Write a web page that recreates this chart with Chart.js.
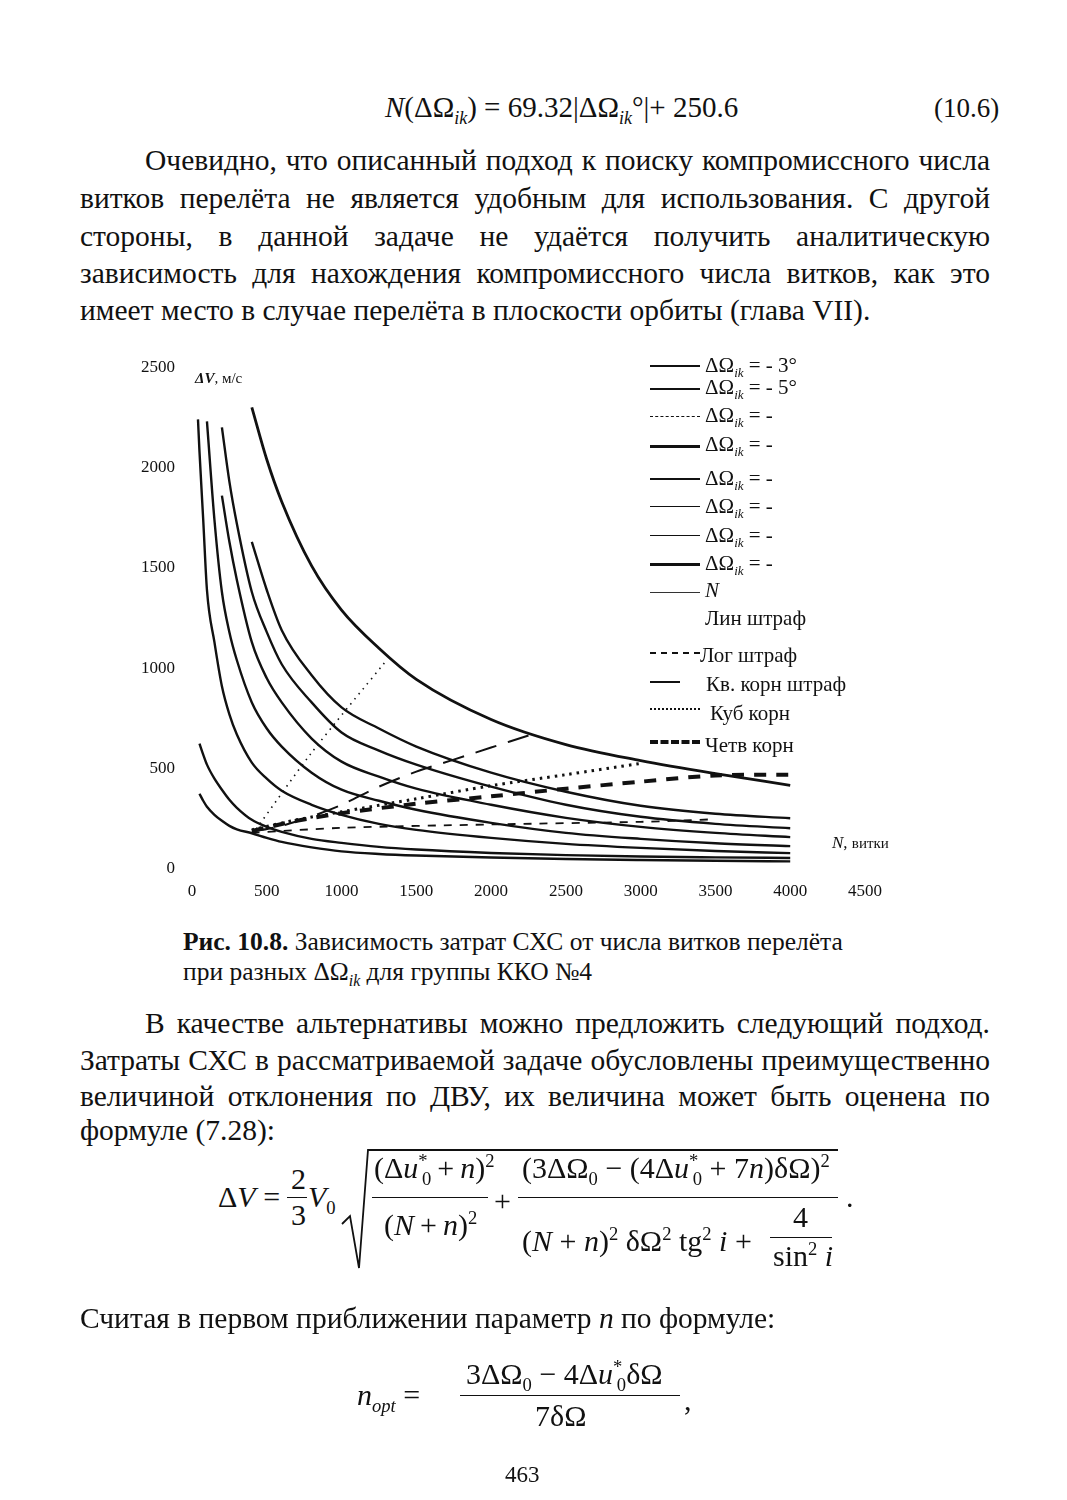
<!DOCTYPE html>
<html lang="ru">
<head>
<meta charset="utf-8">
<script src="https://cdn.jsdelivr.net/npm/chart.js@4.4.1/dist/chart.umd.min.js"></script>
<style>
  body { margin: 0; width: 1067px; height: 1500px; position: relative; background: #fff;
         font-family: "Liberation Serif", "DejaVu Serif", serif; color: #111; overflow: hidden; }
  .ab { position: absolute; white-space: nowrap; }
  .txt { position: absolute; left: 80px; font-size: 29.5px; line-height: 34px; white-space: nowrap; }
  .ind { left: 145px; }
  .cap { position: absolute; left: 183px; font-size: 25.5px; line-height: 30px; white-space: nowrap; }
  .m { font-size: 30px; line-height: 30px; }
  .bar { position: absolute; height: 0; border-top: 1.7px solid #111; }
  sub, sup { font-size: 62%; line-height: 0; }
  #box { position: absolute; left: 100px; top: 340px; width: 850px; height: 570px; }
  .lg { position: absolute; left: 705px; font-size: 21px; line-height: 22px; white-space: nowrap; }
  .sw { position: absolute; left: 650px; width: 50px; height: 0; }
</style>
</head>
<body>

<div class="ab m" style="left:385px; top:92px; font-size:29px;"><i>N</i>(ΔΩ<sub><i>ik</i></sub>) = 69.32|ΔΩ<sub><i>ik</i></sub>°|+ 250.6</div>
<div class="ab m" style="left:934px; top:93px; font-size:27px;">(10.6)</div>

<div class="txt just ind" data-w="845" style="top:143px;">Очевидно, что описанный подход к поиску компромиссного числа</div>
<div class="txt just" data-w="910" style="top:181px;">витков перелёта не является удобным для использования. С другой</div>
<div class="txt just" data-w="910" style="top:219px;">стороны, в данной задаче не удаётся получить аналитическую</div>
<div class="txt just" data-w="910" style="top:256px;">зависимость для нахождения компромиссного числа витков, как это</div>
<div class="txt" style="top:293px;">имеет место в случае перелёта в плоскости орбиты (глава VII).</div>

<div id="box"><canvas id="grafico" width="850" height="570"></canvas></div>

<div class="ab" style="left:195px; top:370px; font-size:15px;"><b><i>ΔV</i></b>, м/с</div>
<div class="ab" style="left:832px; top:833px; font-size:17px;"><i>N</i>, <span style="font-size:15px">витки</span></div>

<div class="sw" style="top:365px; border-top:2px solid #111;"></div>
<div class="lg" style="top:354px;">ΔΩ<sub><i>ik</i></sub> = - 3°</div>
<div class="sw" style="top:388px; border-top:2.5px solid #111;"></div>
<div class="lg" style="top:376px;">ΔΩ<sub><i>ik</i></sub> = - 5°</div>
<div class="sw" style="top:416px; border-top:1.5px dashed #111;"></div>
<div class="lg" style="top:404px;">ΔΩ<sub><i>ik</i></sub> = -</div>
<div class="sw" style="top:445px; border-top:3px solid #111;"></div>
<div class="lg" style="top:433px;">ΔΩ<sub><i>ik</i></sub> = -</div>
<div class="sw" style="top:478px; border-top:2px solid #111;"></div>
<div class="lg" style="top:467px;">ΔΩ<sub><i>ik</i></sub> = -</div>
<div class="sw" style="top:506px; border-top:1.5px solid #111;"></div>
<div class="lg" style="top:495px;">ΔΩ<sub><i>ik</i></sub> = -</div>
<div class="sw" style="top:535px; border-top:1.5px solid #111;"></div>
<div class="lg" style="top:524px;">ΔΩ<sub><i>ik</i></sub> = -</div>
<div class="sw" style="top:563px; border-top:3px solid #111;"></div>
<div class="lg" style="top:552px;">ΔΩ<sub><i>ik</i></sub> = -</div>
<div class="sw" style="top:592px; border-top:1px solid #333;"></div>
<div class="lg" style="top:579px;"><i>N</i></div>
<div class="lg" style="top:607px;">Лин штраф</div>
<div class="sw" style="top:652px; border-top:2px dashed #111;"></div>
<div class="lg" style="top:644px; left:700px;">Лог штраф</div>
<div class="sw" style="top:681px; width:30px; border-top:2px solid #111;"></div>
<div class="lg" style="top:673px; left:706px;">Кв. корн штраф</div>
<div class="sw" style="top:708px; border-top:2px dotted #111;"></div>
<div class="lg" style="top:702px; left:710px;">Куб корн</div>
<div class="sw" style="top:740px; border-top:4px dashed #111;"></div>
<div class="lg" style="top:734px;">Четв корн</div>

<div class="cap" style="top:927px;"><b>Рис. 10.8.</b> Зависимость затрат СХС от числа витков перелёта</div>
<div class="cap" style="top:957px;">при разных ΔΩ<sub><i>ik</i></sub> для группы ККО №4</div>

<div class="txt just ind" data-w="845" style="top:1006px;">В качестве альтернативы можно предложить следующий подход.</div>
<div class="txt just" data-w="910" style="top:1043px;">Затраты СХС в рассматриваемой задаче обусловлены преимущественно</div>
<div class="txt just" data-w="910" style="top:1079px;">величиной отклонения по ДВУ, их величина может быть оценена по</div>
<div class="txt" style="top:1113px;">формуле (7.28):</div>

<div class="ab m" style="left:218px; top:1182px;">Δ<i>V</i> =</div>
<div class="ab m" style="left:291px; top:1164px;">2</div>
<div class="bar" style="left:287px; top:1197px; width:20px;"></div>
<div class="ab m" style="left:291px; top:1200px;">3</div>
<div class="ab m" style="left:308px; top:1182px;"><i>V</i><sub>0</sub></div>
<svg class="ab" style="left:0; top:0;" width="1067" height="1500">
  <path d="M342 1224 L350 1216 L359 1268 L368 1150 L838 1150" fill="none" stroke="#111" stroke-width="1.8"/>
</svg>
<div class="ab m" style="left:374px; top:1153px;">(Δ<i>u</i><sup>*</sup><sub style="margin-left:-0.3em">0</sub>&thinsp;+&thinsp;<i>n</i>)<sup>2</sup></div>
<div class="bar" style="left:372px; top:1197px; width:116px;"></div>
<div class="ab m" style="left:384px; top:1210px;">(<i>N</i>&thinsp;+&thinsp;<i>n</i>)<sup>2</sup></div>
<div class="ab m" style="left:494px; top:1186px;">+</div>
<div class="ab m" style="left:522px; top:1153px;">(3ΔΩ<sub>0</sub> − (4Δ<i>u</i><sup>*</sup><sub style="margin-left:-0.3em">0</sub> + 7<i>n</i>)δΩ)<sup>2</sup></div>
<div class="bar" style="left:518px; top:1197px; width:320px;"></div>
<div class="ab m" style="left:522px; top:1226px;">(<i>N</i> + <i>n</i>)<sup>2</sup> δΩ<sup>2</sup> tg<sup>2</sup> <i>i</i> +</div>
<div class="ab m" style="left:793px; top:1202px;">4</div>
<div class="bar" style="left:770px; top:1237px; width:62px;"></div>
<div class="ab m" style="left:773px; top:1241px;">sin<sup>2</sup> <i>i</i></div>
<div class="ab m" style="left:846px; top:1182px;">.</div>

<div class="txt" style="top:1301px;">Считая в первом приближении параметр <i>n</i> по формуле:</div>

<div class="ab m" style="left:357px; top:1380px;"><i>n</i><sub><i>opt</i></sub> =</div>
<div class="ab m" style="left:466px; top:1359px;">3ΔΩ<sub>0</sub> − 4Δ<i>u</i><sup>*</sup><sub style="margin-left:-0.3em">0</sub>δΩ</div>
<div class="bar" style="left:460px; top:1395px; width:220px;"></div>
<div class="ab m" style="left:535px; top:1401px;">7δΩ</div>
<div class="ab m" style="left:684px; top:1385px;">,</div>

<div class="ab" style="left:505px; top:1462px; font-size:23px;">463</div>

<script>
// N, витки
const nGrid = [40, 50, 75, 100, 150, 200, 250, 300, 400, 500, 600, 800, 1000, 1250, 1500, 2000, 2500, 3000, 3500, 4000];
// ΔV, м/с  (8 кривых ΔΩik)
const curve1 = [2240, 2080, 1740, 1390, 1130, 910, 770, 670, 530, 450, 390, 320, 270, 225, 195, 155, 125, 105, 90, 79];
const curve2 = [null, null, null, 2230, 1740, 1380, 1180, 1040, 830, 700, 610, 480, 395, 340, 295, 230, 180, 150, 128, 114];
const curve3 = [null, null, null, null, null, 1860, 1630, 1440, 1130, 950, 830, 650, 535, 460, 400, 320, 255, 210, 180, 159];
const curve4 = [null, null, null, null, null, 2200, 1930, 1720, 1380, 1180, 1020, 830, 680, 590, 520, 410, 320, 260, 225, 203];
const curve5 = [null, null, null, null, null, null, null, null, 1630, 1390, 1190, 965, 805, 700, 610, 480, 385, 315, 275, 253];
const curve6 = [null, null, null, null, null, null, null, null, 2300, 2040, 1830, 1510, 1290, 1100, 945, 745, 620, 540, 475, 417];
const curve7 = [null, 625, 570, 520, 450, 395, 345, 305, 245, 210, 185, 150, 130, 110, 97, 80, 69, 62, 58, 55];
const curve8 = [null, 375, 340, 310, 270, 240, 215, 198, 178, 155, 135, 108, 88, 75, 67, 57, 50, 45, 41, 38];

// штрафы
const linN = [430, 800, 1290];
const linV = [200, 580, 1030];
const logN = [400, 1000, 2000, 3000, 3500];
const logV = [180, 205, 222, 235, 248];
const sqrtN = [400, 600, 800, 1000, 1250, 1500, 1750, 2000, 2250];
const sqrtV = [185, 215, 262, 320, 410, 485, 545, 605, 665];
const cubN = [400, 700, 1000, 1500, 2000, 2500, 3000];
const cubV = [195, 245, 285, 350, 415, 470, 526];
const fourN = [400, 700, 1000, 1500, 2000, 2500, 3000, 3500, 4000];
const fourV = [190, 240, 278, 325, 362, 400, 435, 466, 470];

const xTicks = [0, 500, 1000, 1500, 2000, 2500, 3000, 3500, 4000, 4500];
const yTicks = [0, 500, 1000, 1500, 2000, 2500];

// justify single lines like the book page
document.querySelectorAll('.just').forEach(function (el) {
  var target = parseFloat(el.dataset.w);
  var natural = el.getBoundingClientRect().width;
  var gaps = (el.textContent.match(/ /g) || []).length;
  if (gaps) el.style.wordSpacing = ((target - natural) / gaps) + 'px';
});

function curva(vals, width) {
  var pts = [];
  nGrid.forEach(function (n, i) { if (vals[i] != null) pts.push({x: n, y: vals[i]}); });
  return { data: pts, borderColor: '#111', borderWidth: width, pointRadius: 0,
           cubicInterpolationMode: 'monotone', fill: false };
}
function shtraf(ns, vs, width, dash) {
  return { data: ns.map(function (n, i) { return {x: n, y: vs[i]}; }), borderColor: '#111',
           borderWidth: width, borderDash: dash, pointRadius: 0, tension: 0.3, fill: false };
}

var datasets = [
  curva(curve1, 2.4), curva(curve2, 2.4), curva(curve3, 2.4), curva(curve4, 2.4),
  curva(curve5, 2.4), curva(curve6, 2.8), curva(curve7, 2.4), curva(curve8, 2.4),
  shtraf(linN, linV, 1.6, [1.5, 5]),
  shtraf(logN, logV, 1.8, [8, 8]),
  shtraf(sqrtN, sqrtV, 2, [22, 12]),
  shtraf(cubN, cubV, 3, [2.5, 5]),
  shtraf(fourN, fourV, 4, [12, 10])
];

var serif = '"Liberation Serif", "DejaVu Serif", serif';
var box = document.getElementById('grafico');
var grafico = new Chart(box, {
  type: 'line',
  data: { datasets: datasets },
  options: {
    responsive: false,
    animation: false,
    layout: { padding: { left: 0, right: 85, top: 25, bottom: 0 } },
    plugins: { legend: { display: false }, tooltip: { enabled: false } },
    scales: {
      x: {
        type: 'linear', min: 0, max: 4500,
        afterBuildTicks: function (s) { s.ticks = xTicks.map(function (v) { return {value: v}; }); },
        afterFit: function (s) { s.height = 41; },
        grid: { display: false, drawTicks: false },
        border: { display: false },
        ticks: { color: '#111', padding: 12, maxRotation: 0, font: { family: serif, size: 17 },
                 callback: function (v) { return String(v); } }
      },
      y: {
        min: 0, max: 2500,
        afterBuildTicks: function (s) { s.ticks = yTicks.map(function (v) { return {value: v}; }); },
        afterFit: function (s) { s.width = 92; },
        grid: { display: false, drawTicks: false },
        border: { display: false },
        ticks: { color: '#111', padding: 17, font: { family: serif, size: 17 },
                 callback: function (v) { return String(v); } }
      }
    }
  }
});
</script>
</body>
</html>
